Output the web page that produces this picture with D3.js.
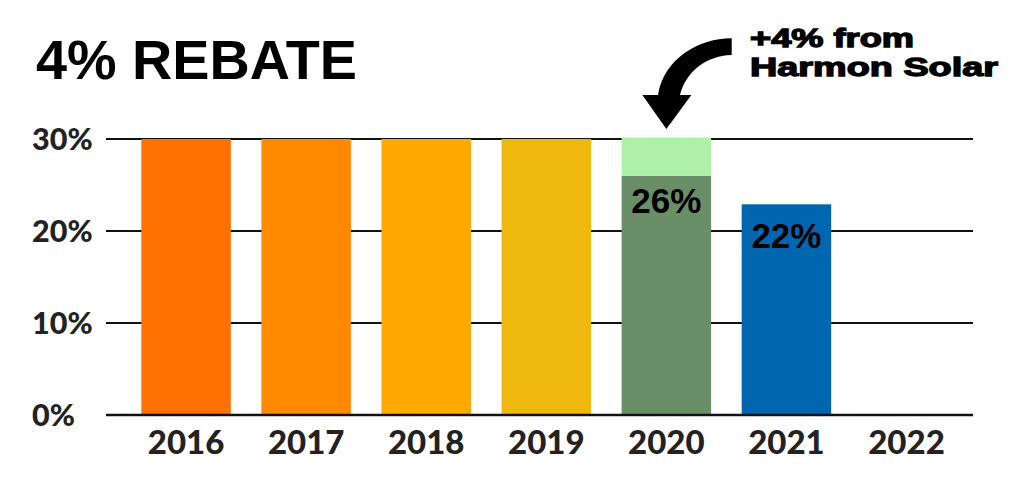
<!DOCTYPE html>
<html lang="en">
	<head>
		<meta charset="utf-8">
		<title>4% Rebate</title>
		<script src="https://cdn.jsdelivr.net/npm/d3@7"></script>
		<style type="text/css">
			body { margin: 0; background: #fff; }
			svg { display: block; }
		</style>
	</head>
	<body>
		<script type="text/javascript">

			//Data
			let years = ["2016", "2017", "2018", "2019", "2020", "2021", "2022"];
			let baseValues = [30, 30, 30, 30, 26, 22.9, null];
			let bonusValues = [0, 0, 0, 0, 4, 0, 0];
			let barColors = ["#ff7100", "#ff8a00", "#ffa800", "#efb80e", "#6a8f68", "#0066b0", "#fff"];
			let bonusColor = "#aff0a9";
			let valueLabels = [null, null, null, null, "26%", "22%", null];
			let yTicks = [0, 10, 20, 30];

			//Width and height
			let w = 1009;
			let h = 494;

			let svg = d3.select("body")
						.append("svg")
						.attr("width", w)
						.attr("height", h);

			//Scales
			let x = d3.scaleBand()
					  .domain(years)
					  .range([126.06, 966.54])
					  .paddingInner(0.2546)
					  .paddingOuter(0.1273);

			let y = d3.scaleLinear()
					  .domain([0, 30])
					  .range([415, 139]);

			let axisFont = "Lato, 'Open Sans', sans-serif";

			//Gridlines
			svg.selectAll("line.grid")
			   .data(yTicks.filter(d => d > 0))
			   .enter()
			   .append("line")
			   .attr("class", "grid")
			   .attr("x1", 106)
			   .attr("x2", 973)
			   .attr("y1", d => y(d))
			   .attr("y2", d => y(d))
			   .attr("stroke", "#111")
			   .attr("stroke-width", 2);

			//Y labels
			svg.selectAll("text.ylab")
			   .data(yTicks)
			   .enter()
			   .append("text")
			   .attr("class", "ylab")
			   .attr("x", 32)
			   .attr("y", d => y(d) + 11)
			   .attr("font-family", axisFont)
			   .attr("font-weight", 900)
			   .attr("font-size", 30.5)
			   .attr("fill", "#222")
			   .text(d => d + "%");

			//Base bars
			let rows = years.map((yr, i) => ({ year: yr, base: baseValues[i], bonus: bonusValues[i], color: barColors[i], label: valueLabels[i] }));

			svg.selectAll("rect.base")
			   .data(rows.filter(d => d.base != null))
			   .enter()
			   .append("rect")
			   .attr("class", "base")
			   .attr("x", d => x(d.year))
			   .attr("width", x.bandwidth())
			   .attr("y", d => y(d.base))
			   .attr("height", d => y(0) - y(d.base))
			   .attr("fill", d => d.color);

			//Bonus segment (Harmon Solar)
			svg.selectAll("rect.bonus")
			   .data(rows.filter(d => d.bonus > 0))
			   .enter()
			   .append("rect")
			   .attr("class", "bonus")
			   .attr("x", d => x(d.year))
			   .attr("width", x.bandwidth())
			   .attr("y", d => y(d.base + d.bonus) - 1.5)
			   .attr("height", d => y(d.base) - y(d.base + d.bonus) + 1.5)
			   .attr("fill", bonusColor);

			//Value labels inside bars
			svg.selectAll("text.val")
			   .data(rows.filter(d => d.label))
			   .enter()
			   .append("text")
			   .attr("class", "val")
			   .attr("x", d => x(d.year) + x.bandwidth() / 2)
			   .attr("y", d => y(d.base) + (d.year === "2021" ? 44 : 37))
			   .attr("text-anchor", "middle")
			   .attr("font-family", "'Liberation Sans', Arial, sans-serif")
			   .attr("font-weight", "bold")
			   .attr("font-size", 35)
			   .attr("fill", "#000")
			   .text(d => d.label);

			//Baseline
			svg.append("line")
			   .attr("x1", 106)
			   .attr("x2", 973)
			   .attr("y1", y(0))
			   .attr("y2", y(0))
			   .attr("stroke", "#111")
			   .attr("stroke-width", 2.5);

			//Year labels
			svg.selectAll("text.xlab")
			   .data(years)
			   .enter()
			   .append("text")
			   .attr("class", "xlab")
			   .attr("x", d => x(d) + x.bandwidth() / 2)
			   .attr("y", 454)
			   .attr("text-anchor", "middle")
			   .attr("font-family", axisFont)
			   .attr("font-weight", 900)
			   .attr("font-size", 33)
			   .attr("fill", "#222")
			   .text(d => d);

			//Title
			svg.append("text")
			   .attr("x", 36)
			   .attr("y", 79)
			   .attr("font-family", "'Liberation Sans', Arial, sans-serif")
			   .attr("font-weight", "bold")
			   .attr("font-size", 56)
			   .attr("textLength", 321)
			   .attr("lengthAdjust", "spacingAndGlyphs")
			   .attr("fill", "#000")
			   .text("4% REBATE");

			//Annotation
			let note = svg.append("g")
						  .attr("font-family", "'Liberation Sans', Arial, sans-serif")
						  .attr("font-weight", "bold")
						  .attr("font-size", 26)
						  .attr("fill", "#000")
						  .attr("stroke", "#000")
						  .attr("stroke-width", 1.3);

			note.append("text")
				.attr("x", 750)
				.attr("y", 46.5)
				.attr("textLength", 164)
				.attr("lengthAdjust", "spacingAndGlyphs")
				.text("+4% from");

			note.append("text")
				.attr("x", 750)
				.attr("y", 75.5)
				.attr("textLength", 248)
				.attr("lengthAdjust", "spacingAndGlyphs")
				.text("Harmon Solar");

			//Curved arrow pointing at the 2020 bonus
			let tip = x("2020") + x.bandwidth() / 2;
			svg.append("path")
			   .attr("d", `M731.7,38.3 C700,38 664,58 658,95 L${tip - 24},95 L${tip},129 L${tip + 25},95 L680,95 C686,72 705,56 731.7,55 Z`)
			   .attr("fill", "#000");

		</script>
	</body>
</html>
